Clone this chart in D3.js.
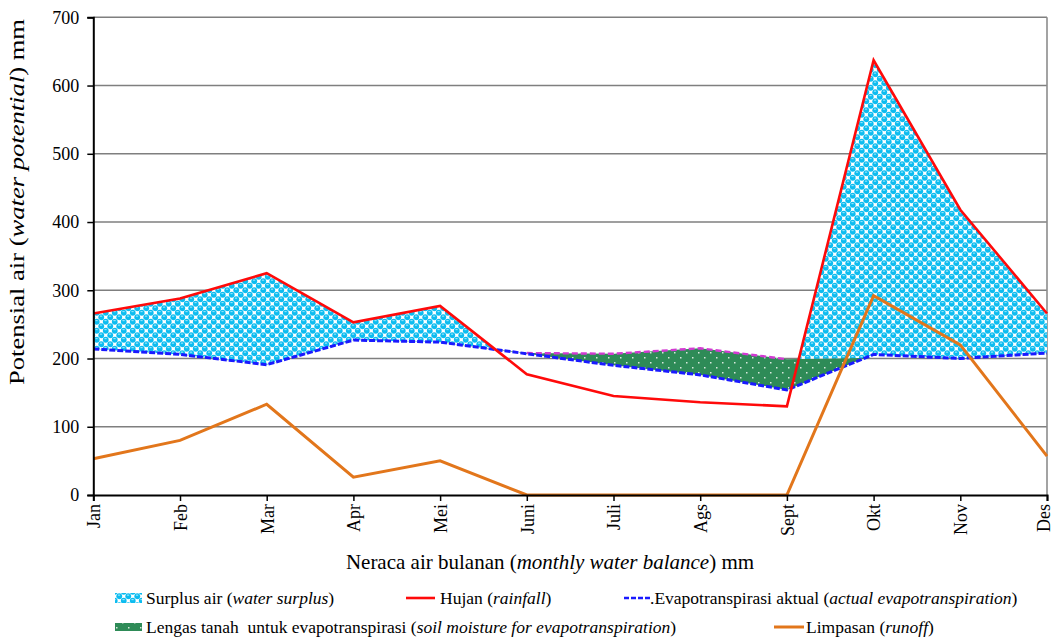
<!DOCTYPE html>
<html>
<head>
<meta charset="utf-8">
<script src="https://cdn.jsdelivr.net/npm/d3@7"></script>
<style>
  body { margin: 0; background: #fff; }
  svg text { font-family: "Liberation Serif", "Times New Roman", Tinos, Times, "DejaVu Serif", serif; fill: #000; }
</style>
</head>
<body>
<div id="chart"></div>
<script>
// Monthly water balance (mm)
const months = ["Jan", "Feb", "Mar", "Apr", "Mei", "Juni", "Juli", "Ags", "Sept", "Okt", "Nov", "Des"];
const rainfall = [266, 288, 325, 253, 277, 177, 145, 136, 130, 637, 418, 266];
const actualET = [214, 206, 191, 227, 224, 207, 190, 176, 154, 206, 200, 208];
const potentialET = [214, 206, 191, 227, 224, 208, 207, 215, 199, 201, 200, 208];
// the dashed magenta line is only drawn Juni..Sept
const potentialShown = [false, false, false, false, false, true, true, true, true, false, false, false];
const runoff = [53, 80, 133, 26, 50, 0, 0, 0, 0, 292, 220, 57];
const yTicks = [0, 100, 200, 300, 400, 500, 600, 700];

const W = 1054, H = 639;
const x0 = 93.3, x1 = 1047, yTop = 17.3, yBot = 495;
const serif = '"Liberation Serif", "Times New Roman", Tinos, Times, serif';

const svg = d3.select("#chart").append("svg")
    .attr("width", W)
    .attr("height", H)
    .attr("font-family", serif);

const x = d3.scalePoint().domain(months).range([x0, x1]);
const y = d3.scaleLinear().domain([0, 700]).range([yBot, yTop]);

const rows = months.map((m, i) => ({
    m: m, rain: rainfall[i], aet: actualET[i], pet: potentialET[i],
    petOn: potentialShown[i], run: runoff[i]
}));

// patterns
const defs = svg.append("defs");

const bub = defs.append("pattern")
    .attr("id", "bubbles")
    .attr("patternUnits", "userSpaceOnUse")
    .attr("width", 9).attr("height", 9);
bub.append("rect").attr("width", 9).attr("height", 9).attr("fill", "#ffffff");
[[2.25, 2.25], [6.75, 6.75], [11.25, 2.25], [-2.25, 6.75], [6.75, -2.25], [2.25, 11.25]].forEach(p => {
    bub.append("circle").attr("cx", p[0]).attr("cy", p[1]).attr("r", 2.9).attr("fill", "#0cbcf0");
});
[[2.25, 2.25], [6.75, 6.75]].forEach(p => {
    bub.append("rect").attr("x", p[0] - 1.3).attr("y", p[1] - 1.6).attr("width", 2.2).attr("height", 1)
        .attr("fill", "#a6eafc");
});

const dots = defs.append("pattern")
    .attr("id", "dots")
    .attr("patternUnits", "userSpaceOnUse")
    .attr("width", 12).attr("height", 10);
dots.append("rect").attr("width", 12).attr("height", 10).attr("fill", "#2e8b57");
dots.append("rect").attr("x", 2).attr("y", 2).attr("width", 1.5).attr("height", 1.5).attr("fill", "#d8e8dc");
dots.append("rect").attr("x", 8).attr("y", 7).attr("width", 1.5).attr("height", 1.5).attr("fill", "#d8e8dc");

// clip regions built from the series
function clipArea(id, lo, hi) {
    defs.append("clipPath").attr("id", id)
        .append("path")
        .datum(rows)
        .attr("d", d3.area().x(d => x(d.m)).y0(lo).y1(hi));
}
clipArea("belowRain", () => yBot + 50, d => y(d.rain));
clipArea("abovePet", d => y(d.pet), () => 0);
clipArea("belowPet", () => yBot + 50, d => y(d.pet));
clipArea("aboveAet", d => y(d.aet), () => 0);

// gridlines
svg.append("g")
    .selectAll("line")
    .data(yTicks.filter(t => t > 0))
    .join("line")
    .attr("x1", x0).attr("x2", x1)
    .attr("y1", d => y(d)).attr("y2", d => y(d))
    .attr("stroke", "#7f7f7f")
    .attr("stroke-width", 1.6);

// right border
svg.append("line")
    .attr("x1", x1).attr("x2", x1)
    .attr("y1", yTop).attr("y2", yBot)
    .attr("stroke", "#8c8c8c")
    .attr("stroke-width", 1.6);

// soil moisture area (green): below potential ET, above actual ET
svg.append("g").attr("clip-path", "url(#belowPet)")
    .append("g").attr("clip-path", "url(#aboveAet)")
    .append("rect")
    .attr("x", x0).attr("y", yTop)
    .attr("width", x1 - x0).attr("height", yBot - yTop)
    .attr("fill", "url(#dots)");

// surplus area (cyan): below rainfall, above both ET lines
svg.append("g").attr("clip-path", "url(#belowRain)")
    .append("g").attr("clip-path", "url(#abovePet)")
    .append("g").attr("clip-path", "url(#aboveAet)")
    .append("rect")
    .attr("x", x0).attr("y", yTop)
    .attr("width", x1 - x0).attr("height", yBot - yTop)
    .attr("fill", "url(#bubbles)");

// lines
const line = (acc) => d3.line().x(d => x(d.m)).y(d => y(acc(d)));

svg.append("path")
    .datum(rows)
    .attr("fill", "none")
    .attr("stroke", "#d23ad2")
    .attr("stroke-width", 2.4)
    .attr("stroke-dasharray", "6,3")
    .attr("d", d3.line().defined(d => d.petOn).x(d => x(d.m)).y(d => y(d.pet)));

svg.append("path")
    .datum(rows)
    .attr("fill", "none")
    .attr("stroke", "#1a1aff")
    .attr("stroke-width", 3)
    .attr("stroke-dasharray", "6,2")
    .attr("d", line(d => d.aet));

svg.append("path")
    .datum(rows)
    .attr("fill", "none")
    .attr("stroke", "#ff0a0a")
    .attr("stroke-width", 2.6)
    .attr("d", line(d => d.rain));

svg.append("path")
    .datum(rows)
    .attr("fill", "none")
    .attr("stroke", "#e2761b")
    .attr("stroke-width", 3)
    .attr("d", line(d => d.run));

// Y axis
const yAxis = svg.append("g")
    .attr("transform", "translate(" + x0 + ",0)")
    .call(d3.axisLeft(y).tickValues(yTicks).tickSize(6).tickPadding(8));
yAxis.attr("font-family", serif);
yAxis.select(".domain").attr("stroke", "#000").attr("stroke-width", 2);
yAxis.selectAll(".tick line").attr("stroke", "#000").attr("stroke-width", 1.5);
yAxis.selectAll("text")
    .style("font-family", serif)
    .style("font-size", "18px");

// X axis
const xAxis = svg.append("g")
    .attr("transform", "translate(0," + yBot + ")")
    .call(d3.axisBottom(x).tickSize(6).tickPadding(0));
xAxis.attr("font-family", serif);
xAxis.select(".domain").attr("stroke", "#000").attr("stroke-width", 2);
xAxis.selectAll(".tick line").attr("stroke", "#000").attr("stroke-width", 1.5);
xAxis.selectAll("text")
    .style("font-family", serif)
    .style("font-size", "18px")
    .attr("text-anchor", "end")
    .attr("transform", d => "translate(" + (d === "Des" ? -4 : 0) + ",9) rotate(-90)")
    .attr("x", 0)
    .attr("y", 0)
    .attr("dy", "0.35em");

// axis titles
svg.append("text")
    .attr("transform", "translate(24,202) rotate(-90)")
    .attr("text-anchor", "middle")
    .attr("textLength", 366)
    .attr("lengthAdjust", "spacingAndGlyphs")
    .style("font-size", "21px")
    .html('Potensial air (<tspan font-style="italic">water potential</tspan>) mm');

svg.append("text")
    .attr("x", 550)
    .attr("y", 569)
    .attr("text-anchor", "middle")
    .style("font-size", "21px")
    .html('Neraca air bulanan (<tspan font-style="italic">monthly water balance</tspan>) mm');

// legend
const legend = svg.append("g").style("font-size", "17.5px");

function legendText(xp, yp, plain, ital) {
    legend.append("text")
        .attr("x", xp).attr("y", yp)
        .html(plain + ' (<tspan font-style="italic">' + ital + '</tspan>)');
}

legend.append("rect").attr("x", 115).attr("y", 593).attr("width", 27).attr("height", 10)
    .attr("fill", "url(#bubbles)");
legendText(146, 604, "Surplus air", "water surplus");

legend.append("line").attr("x1", 406).attr("x2", 435).attr("y1", 598).attr("y2", 598)
    .attr("stroke", "#ff0a0a").attr("stroke-width", 2.6);
legendText(440, 604, "Hujan", "rainfall");

legend.append("line").attr("x1", 624).attr("x2", 650).attr("y1", 598).attr("y2", 598)
    .attr("stroke", "#1a1aff").attr("stroke-width", 2.6).attr("stroke-dasharray", "5,2");
legendText(650, 604, ".Evapotranspirasi aktual", "actual evapotranspiration");

legend.append("rect").attr("x", 115).attr("y", 623).attr("width", 27).attr("height", 8)
    .attr("fill", "url(#dots)");
legendText(146, 633, "Lengas tanah&#160; untuk evapotranspirasi", "soil moisture for evapotranspiration");

legend.append("line").attr("x1", 774).attr("x2", 804).attr("y1", 627).attr("y2", 627)
    .attr("stroke", "#e2761b").attr("stroke-width", 3);
legendText(806, 633, "Limpasan", "runoff");
</script>
</body>
</html>
